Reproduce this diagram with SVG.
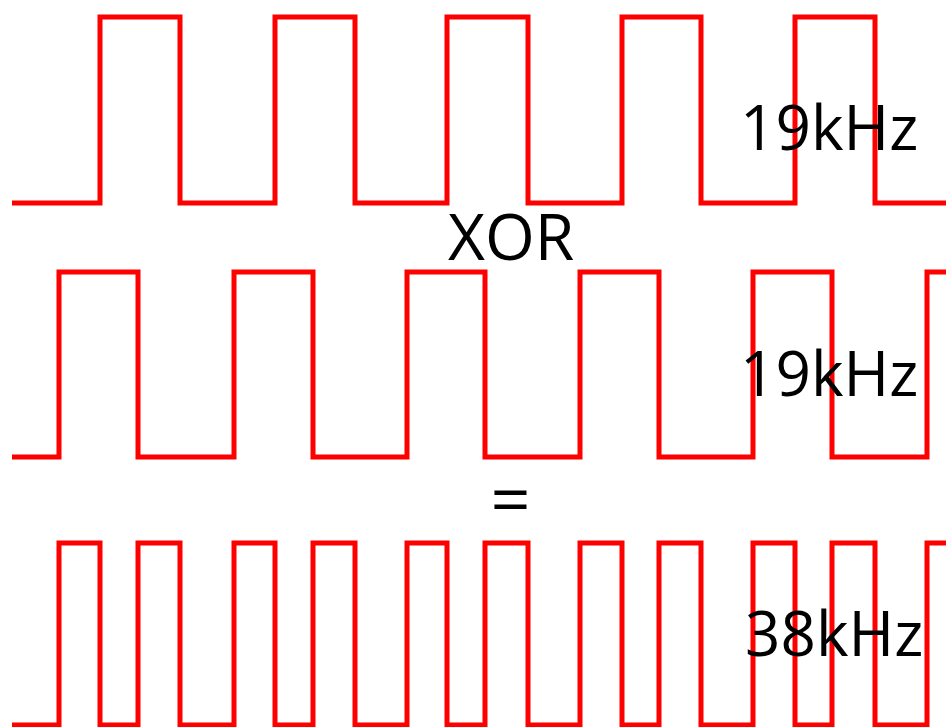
<svg xmlns="http://www.w3.org/2000/svg" width="946" height="727" viewBox="0 0 946 727">
<style>
.w{fill:none;stroke:#ff0000;stroke-width:5;stroke-linejoin:miter;stroke-linecap:butt}
.t{font-family:"Open Sans","Noto Sans",sans-serif;font-size:62px;fill:#000}
</style>
<rect width="946" height="727" fill="#fff"/>
<g id="wave1">
<path class="w" d="M12 203H100V17H180V203H275V17H355V203H447V17H528V203H622V17H701V203H795V17H875V203H946"/>
</g>
<g id="wave2">
<path class="w" d="M12 457H59V272H138V457H234V272H313V457H407V272H485V457H580V272H659V457H753V272H832V457H927V272H946"/>
</g>
<g id="wave3">
<path class="w" d="M12 725H59V543H100V725H138V543H180V725H234V543H275V725H313V543H355V725H407V543H447V725H485V543H528V725H580V543H622V725H659V543H701V725H753V543H795V725H832V543H875V725H927V543H946"/>
</g>
<g id="labels">
<text class="t" x="740" y="150">19kHz</text>
<text class="t" x="740" y="396">19kHz</text>
<text class="t" x="745" y="656">38kHz</text>
<text class="t" x="448" y="260" style="font-size:64px">XOR</text>
<text class="t" x="510.5" y="524" text-anchor="middle" style="font-size:70px">=</text>
</g>
</svg>
